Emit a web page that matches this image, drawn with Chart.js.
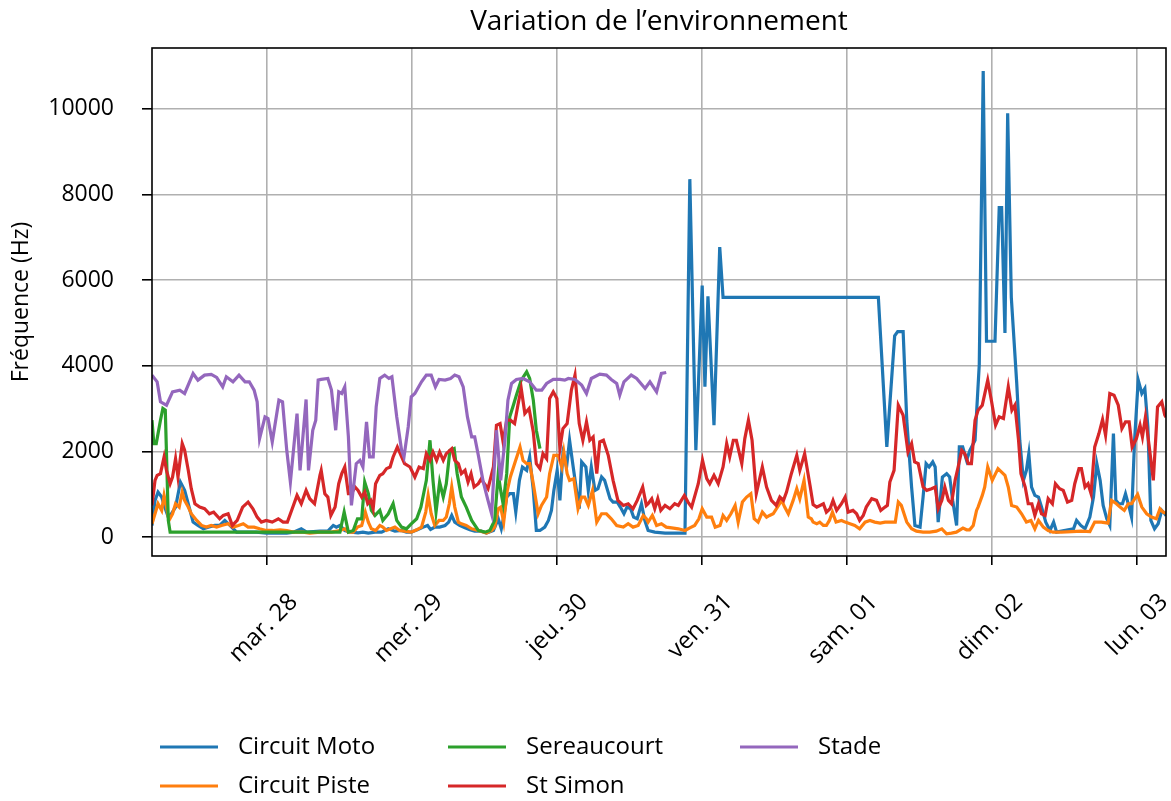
<!DOCTYPE html>
<html>
<head>
<meta charset="utf-8">
<script src="https://cdn.jsdelivr.net/npm/chart.js@4"></script>
<style>
  body { margin: 0; background: #fff; }
  #wrap { width: 1171px; height: 801px; position: relative; }
</style>
</head>
<body>
<div id="wrap"><canvas id="chart"></canvas></div>
<script>
'use strict';

// hours since Mar 27 00:00 -> frequency (Hz)
const dayLabels = ['mar. 28', 'mer. 29', 'jeu. 30', 'ven. 31', 'sam. 01', 'dim. 02', 'lun. 03'];
const dayTicks = [24, 48, 72, 96, 120, 144, 168];
const freqTicks = [0, 2000, 4000, 6000, 8000, 10000];
const seriesNames = ['Circuit Moto', 'Circuit Piste', 'Sereaucourt', 'St Simon', 'Stade'];
const seriesColors = ['#1f77b4', '#ff7f0e', '#2ca02c', '#d62728', '#9467bd'];
const chartTitle = "Variation de l\u2019environnement";

const moto = [
  [5.0,273],[5.5,858],[6.0,1053],[6.6,936],[7.1,702],[7.7,468],[8.2,546],[8.9,702],[9.7,1287],[10.4,1092],[11.15,702],[11.8,351],[12.6,273],[13.5,195],[14.3,234],[15.4,273],[16.2,273],[17.05,390],[17.9,273],[19.0,117],[20.6,117],[22.3,117],[23.9,94],[25.6,94],[27.3,94],[28.4,117],[29.7,195],[30.6,117],[32.8,140],
  [34.1,140],[35.0,273],[35.5,234],[36.1,273],[36.9,156],[38.0,117],[39.1,101],[39.9,117],[40.8,94],[41.9,117],[43.0,117],[44.1,195],[45.2,140],[46.3,156],[47.1,117],[47.9,117],[49.0,179],[49.9,234],[50.6,273],[51.1,179],[51.8,234],[52.6,234],[53.5,273],[54.1,351],[54.6,507],[55.1,351],[55.9,273],[56.8,218],[57.6,172],[58.4,140],[59.5,140],
  [60.35,94],[61.5,156],[62.3,429],[62.8,195],[63.2,468],[63.7,936],[64.2,1014],[64.8,1014],[65.2,585],[65.8,1326],[66.3,1638],[67.0,1560],[67.5,1872],[68.1,1092],[68.6,156],[69.2,156],[70.0,234],[70.6,390],[71.1,624],[71.5,1092],[72.05,1560],[72.5,858],[73.0,1950],[73.6,1638],[74.1,2262],[74.7,1638],[75.25,1092],[75.7,663],[76.1,1755],[76.8,1638],[77.2,1092],[77.7,1638],[78.3,1092],[78.8,1131],[79.4,1404],[79.9,1326],[80.8,897],[81.3,819],[82.0,819],[82.5,702],[83.1,546],[83.6,702],[84.2,663],[84.7,468],[85.3,429],[86.0,780],[86.55,390],[87.1,156],
  [88.2,117],[89.9,94],[91.5,94],[93.2,94],[94.0,8358],[95.0,2028],[96.05,5872],[96.5,3510],[97.0,5623],[98.0,2613],[98.95,6773],[99.5,5600],[125.2,5600],[126.6,2106],[127.9,4700],[128.4,4800],[129.3,4800],[129.9,2730],[130.7,1170],[131.25,273],[132.1,234],[132.6,936],[133.1,1716],[133.6,1638],[134.2,1755],[134.6,1638],[135.1,351],[135.8,1404],[136.5,1482],[137.0,1404],[137.5,858],[138.15,273],[138.6,2106],[139.15,2106],[139.8,1794],[140.35,2028],[141.2,2262],[141.9,4031],[142.55,10881],[143.1,4574],[144.5,4574],[145.2,7696],[145.6,7696],[146.15,4769],[146.6,9895],[147.2,5600],[148.1,3588],[148.6,2262],[149.2,1326],[149.7,1560],[150.1,1950],[150.55,1170],[151.1,975],[151.7,936],[152.2,702],[152.9,351],[153.6,156],[154.2,351],[154.7,117],[155.5,140],[156.6,172],[157.5,195],[158.0,390],[158.7,273],[159.4,195],[160.2,468],[160.8,936],[161.35,1716],[161.9,1326],[162.4,741],[163.0,429],[163.5,273],[164.1,2418],[164.5,858],[165.0,780],[165.6,780],[166.1,1014],[166.7,702],[167.1,468],[167.6,2262],[168.2,3666],[168.8,3354],[169.3,3471],[169.8,2574],[170.3,390],[170.9,195],[171.5,312],[172.1,624],[172.6,546],[172.8,500]
];

const piste = [
  [5.0,312],[5.5,546],[6.0,780],[6.6,624],[7.0,975],[7.4,702],[7.8,390],[8.4,546],[8.9,780],[9.5,702],[10.0,1053],[10.4,858],[11.0,702],[11.5,546],[12.4,390],[13.2,273],[14.0,234],[14.8,273],[15.7,234],[16.5,273],[17.6,312],[18.4,234],[19.3,273],[20.1,312],[20.9,234],[21.9,234],[22.8,195],[23.9,156],[25.0,156],[26.2,172],[27.3,156],[28.4,117],[30.0,117],[31.1,94],[32.8,117],
  [34.7,117],[36.1,156],[36.9,195],[37.5,117],[38.3,117],[39.0,234],[39.7,273],[40.3,585],[40.8,351],[41.3,195],[42.0,156],[42.7,273],[43.2,234],[43.8,156],[44.5,195],[45.2,234],[46.0,156],[46.8,140],[47.9,117],[48.8,172],[49.6,234],[50.3,585],[50.7,975],[51.2,546],[51.8,273],[52.5,390],[53.2,390],[53.7,468],[54.2,780],[54.6,1170],[55.1,702],[55.7,351],[56.2,312],[57.0,273],[57.9,195],[59.0,156],
  [60.35,94],[61.2,156],[61.7,234],[62.3,663],[62.7,702],[63.2,351],[63.8,1092],[64.3,1404],[65.0,1716],[65.9,2106],[66.4,1794],[67.0,1716],[67.5,1716],[68.1,1248],[68.9,546],[69.45,741],[70.3,936],[70.8,1482],[71.5,1911],[72.2,1911],[72.8,1638],[73.15,1989],[73.7,1482],[74.1,1326],[74.8,1365],[75.5,663],[76.1,936],[76.6,936],[77.2,741],[77.9,1092],[78.6,351],[79.4,546],[80.2,546],[81.0,429],[81.9,273],[83.0,234],[83.8,312],[84.6,234],[85.45,273],[86.3,507],[86.8,429],
  [87.1,351],[87.8,507],[88.5,273],[89.3,312],[90.1,234],[91.0,218],[92.1,195],[93.2,156],[94.0,218],[94.8,273],[95.5,429],[96.05,663],[96.8,468],[97.6,468],[98.2,234],[99.0,273],[99.5,507],[100.1,390],[100.8,546],[101.5,741],[102.0,351],[102.7,819],[103.4,936],[104.1,1014],[104.65,429],[105.3,351],[106.0,585],[106.7,468],[107.2,507],[107.8,546],[108.5,702],[109.2,858],[109.7,702],[110.3,546],[111.1,858],[111.7,1131],[112.2,897],[112.9,1326],[113.6,468],[114.1,429],
  [114.4,351],[115.0,312],[115.5,351],[116.1,273],[116.6,273],[117.1,390],[117.6,585],[118.2,351],[119.1,390],[119.7,351],[120.5,312],[121.3,273],[122.1,195],[123.0,351],[123.8,390],[124.6,351],[125.5,330],[126.3,351],[127.1,351],[128.0,351],[128.5,819],[129.0,741],[129.9,351],[130.7,195],[131.5,140],[132.6,117],[133.7,117],[134.8,140],[135.7,195],[136.5,78],[137.3,94],[138.1,117],[139.2,211],[139.8,172],[140.3,172],[140.9,273],[141.45,624],
  [141.7,702],[142.4,975],[142.8,1170],[143.3,1638],[144.05,1326],[145.0,1599],[146.15,1443],[146.7,1170],[147.25,741],[148.1,702],[148.9,546],[149.7,351],[150.45,390],[151.1,195],[151.7,390],[152.5,234],[153.3,156],[154.1,117],[155.5,117],[157.2,130],[158.8,140],[160.2,130],[161.0,351],[162.1,351],[163.2,328],[163.8,858],[164.6,780],[165.2,702],[165.9,624],[166.55,780],[167.1,780],[168.1,998],[168.8,702],[169.6,546],[170.4,468],[171.2,429],[171.8,663],[172.3,585],[172.8,560]
];

const sereaucourt = [
  [5.0,2730],[5.3,2184],[5.7,2184],[6.4,2730],[6.8,3003],[7.2,2964],[7.7,390],[8.0,117],[36.1,117],[36.8,585],[37.5,117],[38.3,156],[39.0,429],[39.7,429],[40.2,1287],[40.8,1014],[41.3,624],[41.9,507],[42.7,624],[43.2,390],[44.1,546],[44.9,780],[45.5,390],[46.3,234],[47.1,195],[47.9,312],[48.8,429],[49.5,702],[50.4,1326],[51.0,2262],[51.5,1326],[52.0,585],[52.6,1287],[53.2,936],[53.7,1248],[54.3,2028],[55.0,2067],[55.5,1482],[56.2,936],[57.0,702],[57.9,390],[59.0,156],[60.1,117],[60.9,156],[61.7,390],[62.3,1482],[62.7,1092],[63.1,780],[63.7,1482],[64.2,2808],[64.8,3081],[65.3,3315],[66.1,3666],[67.0,3861],[67.5,3705],[68.1,3198],[68.6,2496],[69.2,2067]
];

const stSimon = [
  [5.0,741],[5.5,1326],[5.85,1443],[6.4,1482],[7.0,1872],[7.4,1560],[8.0,1248],[8.4,1404],[8.9,1833],[9.3,1404],[10.0,2184],[10.4,2028],[11.0,1560],[11.5,1131],[12.1,780],[12.9,702],[13.7,663],[14.5,546],[15.2,585],[16.2,429],[16.8,507],[17.6,546],[18.3,273],[19.1,390],[20.0,702],[20.9,819],[21.7,663],[22.4,468],[23.1,351],[23.9,390],[24.9,351],[25.9,429],[26.7,351],[27.4,351],[28.1,624],[29.0,975],[29.7,780],[30.5,1092],[31.1,897],[31.9,780],
  [32.8,1450],[33.0,1560],[33.6,1014],[34.1,936],[34.6,507],[35.3,702],[35.9,1248],[36.4,1482],[36.9,1638],[37.5,1014],[38.0,1014],[38.6,1170],[39.1,1092],[39.7,936],[40.2,1053],[40.7,780],[41.2,858],[41.6,663],[42.0,1248],[42.7,1443],[43.2,1482],[43.8,1599],[44.4,1638],[44.9,1872],[45.6,2106],[46.2,1911],[46.8,1716],[47.7,1638],[48.5,1404],[49.2,1638],[49.9,1599],[50.4,1950],[51.0,1794],[51.5,1989],[52.1,1794],[52.6,1989],[53.2,1794],[53.7,1950],[54.6,2067],[55.1,1794],[55.7,1716],[56.2,1482],[56.8,1560],[57.3,1287],[57.8,1482],[58.3,1170],[59.0,1248],[59.5,1365],
  [59.8,1287],[60.6,1131],[61.5,1638],[62.0,2613],[62.6,2652],[63.1,2223],[63.7,2730],[64.3,2730],[65.0,2652],[65.6,3120],[66.1,3471],[66.7,2886],[67.4,3003],[68.1,2457],[68.6,1716],[69.2,1599],[69.7,1950],[70.3,1833],[70.8,3237],[71.4,3393],[72.0,3237],[72.5,2067],[73.0,2535],[73.7,2652],[74.4,3432],[75.0,3783],[75.7,2652],[76.3,2262],[76.9,2691],[77.45,2262],[78.0,2340],[78.6,1482],[79.1,2223],[79.7,2262],[80.5,1911],[81.3,1326],[82.1,858],[83.0,741],[83.8,780],[84.6,663],[85.3,858],[86.2,1170],[86.8,741],
  [87.1,780],[87.7,897],[88.2,663],[88.7,897],[89.2,624],[89.9,741],[90.7,663],[91.5,780],[92.1,741],[93.1,975],[93.7,819],[94.3,702],[95.4,1248],[96.1,1794],[96.8,1365],[97.3,1248],[98.0,1443],[98.7,1248],[99.5,1638],[100.1,2184],[100.6,1872],[101.2,2262],[101.7,2262],[102.6,1716],[103.1,2301],[103.7,2730],[104.3,2262],[105.0,1014],[106.0,1638],[106.7,1170],[107.5,858],[108.3,741],[108.9,936],[109.5,858],[110.0,1053],[110.8,1482],[111.7,1911],[112.2,1560],[113.0,1950],[113.9,1200],[114.4,760],
  [115.0,702],[116.1,780],[116.6,585],[117.2,663],[117.7,858],[118.3,624],[119.1,780],[119.7,936],[120.2,585],[121.0,624],[121.6,546],[122.1,390],[122.7,507],[123.2,702],[124.1,897],[124.9,858],[125.6,624],[126.3,702],[126.7,741],[127.1,1287],[127.8,1560],[128.5,3081],[129.3,2847],[130.1,1989],[130.7,2184],[131.2,1755],[131.8,1716],[132.6,1170],[133.2,1092],[134.0,1131],[134.6,1170],[135.1,663],[135.7,858],[136.2,1170],[136.8,858],[137.3,780],[137.9,1326],[138.4,1638],[139.0,2028],[139.5,1950],[140.1,1716],[140.6,1716],
  [141.2,2730],[141.7,2964],[142.4,3081],[143.3,3666],[143.9,3198],[144.6,2613],[145.2,2808],[145.9,2769],[146.7,3510],[147.3,2964],[147.8,3081],[148.4,2262],[148.8,1482],[149.5,1170],[150.0,780],[150.6,780],[151.1,507],[151.7,780],[152.2,546],[152.8,507],[153.3,897],[154.0,780],[154.5,1248],[155.2,1131],[155.8,1092],[156.5,819],[157.2,858],[157.7,1248],[158.4,1599],[158.8,1599],[159.4,1170],[159.9,1248],[160.4,1014],[161.0,2106],[161.7,2418],[162.3,2746],[162.8,2379],[163.5,3354],[164.2,3315],[164.9,3081],[165.5,2535],[166.1,2691],[166.7,2691],[167.2,2106],[167.9,2301],[168.5,2613],[168.9,2340],[169.4,2808],[170.1,2028],[170.7,1326],[171.4,3042],[172.1,3159],[172.6,2847],[172.8,2800]
];

const stade = [
  [5.0,3780],[5.85,3627],[6.4,3159],[7.4,3081],[8.4,3393],[9.6,3432],[10.4,3354],[11.8,3822],[12.6,3666],[13.7,3783],[14.8,3800],[15.7,3728],[16.7,3510],[17.3,3744],[18.4,3627],[19.4,3783],[20.4,3627],[21.1,3627],[21.9,3432],[22.4,3159],[22.8,2301],[23.7,2808],[24.2,2769],[24.9,2223],[26.0,3198],[26.6,3159],[27.3,2028],[27.9,1287],[29.0,2886],[29.5,1560],[30.5,3214],[30.9,1560],[31.6,2496],[32.1,2730],[32.5,3666],
  [33.0,3682],[34.1,3705],[34.7,3432],[35.4,2496],[35.9,3393],[36.4,3354],[36.9,3510],[37.5,2340],[38.0,741],[38.8,1716],[39.4,1794],[39.9,1638],[40.5,2691],[41.0,1872],[41.6,1872],[42.1,3042],[42.7,3705],[43.5,3783],[44.2,3705],[44.7,3744],[45.5,2808],[46.3,2028],[46.7,1872],[47.4,2574],[47.9,3276],[48.5,3354],[49.6,3627],[50.4,3783],[51.2,3783],[51.9,3510],[52.5,3682],[53.5,3666],[54.4,3705],[55.1,3783],[55.8,3744],[56.5,3510],[57.2,2808],[57.9,2340],[58.4,2340],[59.0,1911],[59.8,1300],
  [60.6,858],[61.2,546],[62.0,2496],[62.7,1326],[63.4,2262],[63.9,3198],[64.5,3588],[65.3,3682],[66.4,3705],[67.5,3627],[68.6,3432],[69.5,3432],[70.3,3588],[71.4,3682],[72.5,3682],[73.3,3666],[73.9,3705],[75.0,3682],[76.1,3549],[76.9,3354],[77.7,3705],[79.1,3806],[80.2,3783],[81.0,3682],[81.9,3588],[82.4,3315],[83.1,3627],[84.3,3783],[85.2,3705],[86.6,3471],[87.4,3627],[88.5,3393],[89.3,3822],[90.1,3845]
];

const allSeries = [moto, piste, sereaucourt, stSimon, stade];

// black frame round the plot area, like the matplotlib spines
const framePlugin = {
  id: 'frame',
  afterDatasetsDraw(chart) {
    const a = chart.chartArea;
    const ctx = chart.ctx;
    ctx.save();
    ctx.strokeStyle = '#000';
    ctx.lineWidth = 1.6;
    ctx.strokeRect(a.left, a.top, a.right - a.left, a.bottom - a.top);
    ctx.restore();
  }
};

// title centred over the plot area, legend in 3 columns filled column by column
const textPlugin = {
  id: 'texts',
  afterDraw(chart) {
    const ctx = chart.ctx;
    const a = chart.chartArea;
    ctx.save();
    ctx.fillStyle = '#000';
    ctx.textBaseline = 'middle';
    ctx.textAlign = 'center';
    ctx.font = "28px 'Open Sans'";
    ctx.fillText(chartTitle, (a.left + a.right) / 2, 22);

    const colX = [160, 448, 740];
    const rowY = [747, 786];
    ctx.textAlign = 'left';
    ctx.font = "24px 'Open Sans'";
    chart.data.datasets.forEach((ds, i) => {
      const x = colX[Math.floor(i / 2)];
      const y = rowY[i % 2];
      ctx.strokeStyle = ds.borderColor;
      ctx.lineWidth = 3.2;
      ctx.beginPath();
      ctx.moveTo(x, y);
      ctx.lineTo(x + 58, y);
      ctx.stroke();
      ctx.fillText(ds.label, x + 78, y);
    });
    ctx.restore();
  }
};

Chart.defaults.font.family = "'Open Sans', sans-serif";
Chart.defaults.color = '#000';

new Chart(document.getElementById('chart'), {
  type: 'line',
  data: {
    datasets: allSeries.map((s, i) => ({
      label: seriesNames[i],
      data: s.map(p => ({ x: p[0], y: p[1] })),
      borderColor: seriesColors[i],
      backgroundColor: seriesColors[i],
      borderWidth: 3.2,
      pointRadius: 0,
      tension: 0,
      fill: false,
      order: allSeries.length - i
    }))
  },
  options: {
    responsive: true,
    maintainAspectRatio: false,
    animation: false,
    layout: { padding: { left: 0, right: 5, top: 48, bottom: 0 } },
    plugins: {
      legend: { display: false },
      tooltip: { enabled: false },
      title: { display: false }
    },
    scales: {
      x: {
        type: 'linear',
        min: 5,
        max: 172.8,
        border: { display: false },
        grid: { color: '#b0b0b0', lineWidth: 1.6, tickLength: 9, tickColor: '#000', tickWidth: 1.6 },
        afterBuildTicks: s => { s.ticks = dayTicks.map(v => ({ value: v })); },
        ticks: {
          autoSkip: false,
          minRotation: 45,
          maxRotation: 45,
          padding: 23,
          labelOffset: 27,
          font: { size: 24 },
          callback: v => dayLabels[dayTicks.indexOf(v)]
        },
        afterFit: s => { s.height = 245; s.paddingLeft = 0; s.paddingRight = 0; }
      },
      y: {
        min: -440,
        max: 11420,
        border: { display: false },
        grid: { color: '#b0b0b0', lineWidth: 1.6, tickLength: 10, tickColor: '#000', tickWidth: 1.6 },
        afterBuildTicks: s => { s.ticks = freqTicks.map(v => ({ value: v })); },
        ticks: {
          padding: 28,
          font: { size: 23 },
          callback: v => String(v)
        },
        title: {
          display: true,
          text: 'Fréquence (Hz)',
          font: { size: 23 },
          padding: { top: 8, bottom: 0 }
        },
        afterFit: s => { s.width = 152; }
      }
    }
  },
  plugins: [framePlugin, textPlugin]
});
</script>
</body>
</html>
